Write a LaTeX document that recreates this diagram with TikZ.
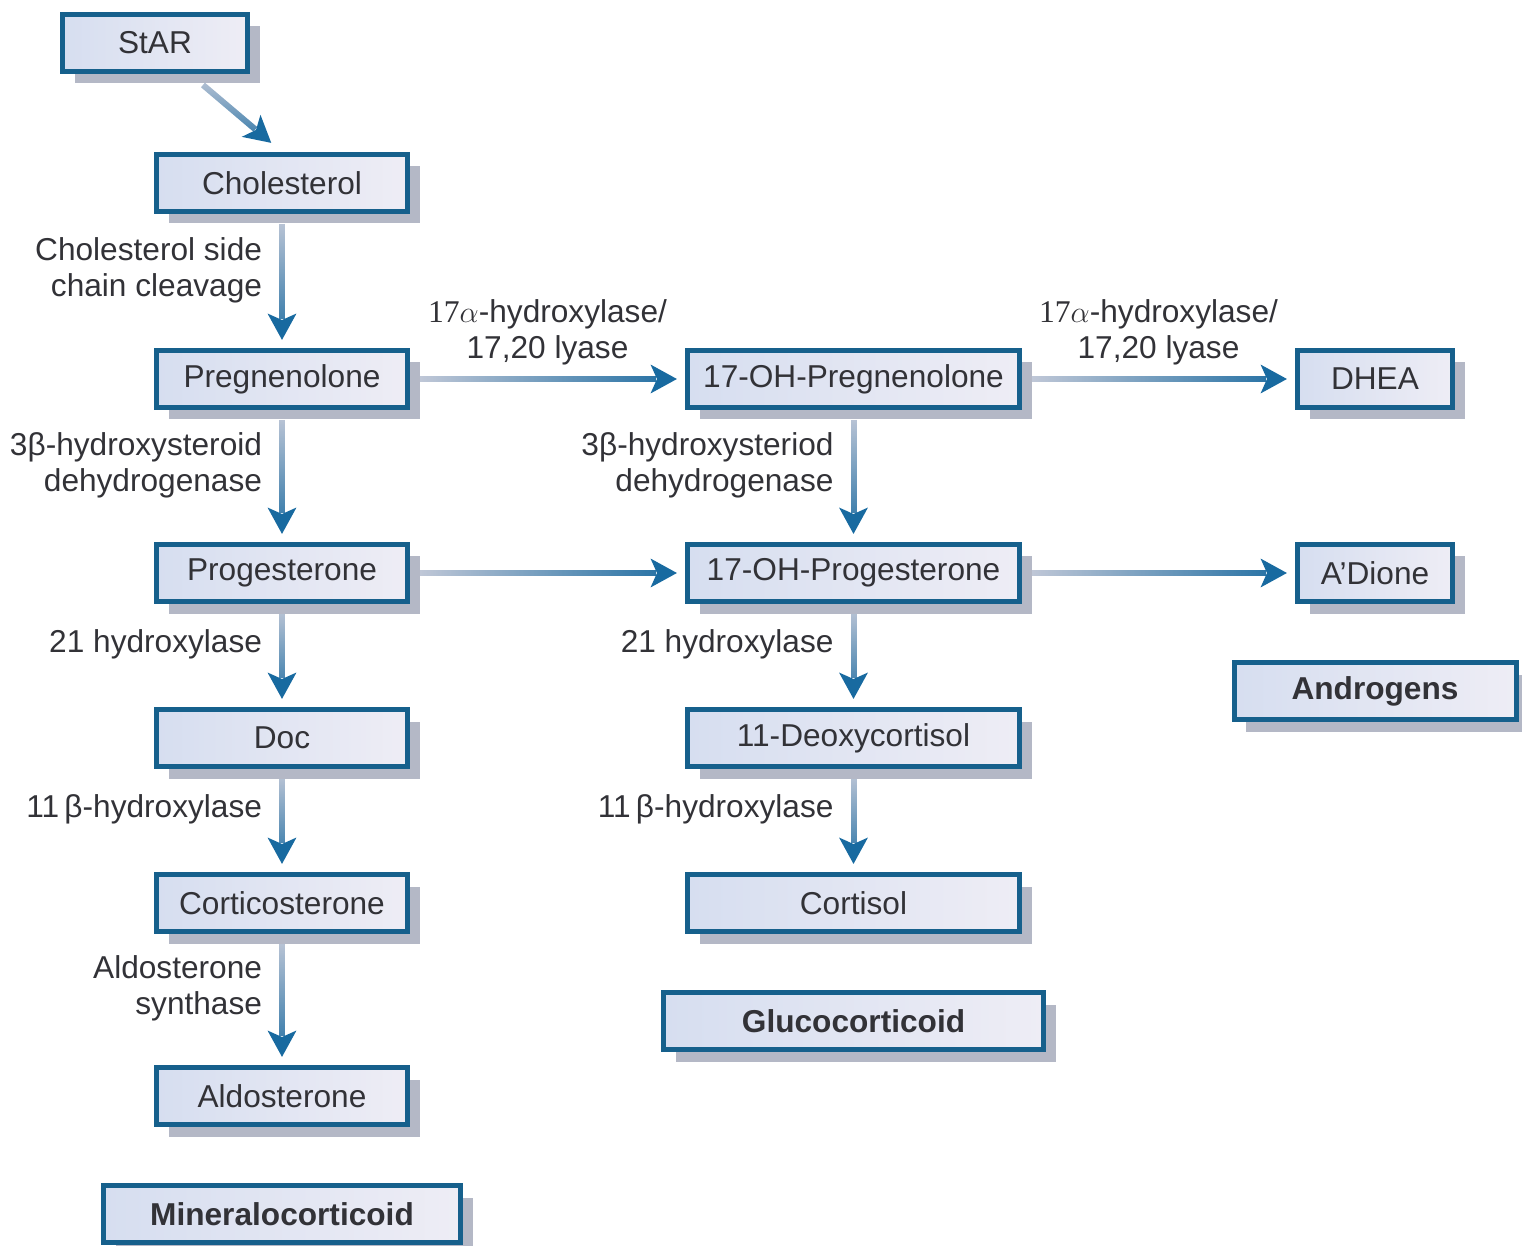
\documentclass[tikz,border=0pt]{standalone}
\usepackage{fontspec}
\setmainfont{Liberation Sans}
\newfontfamily\numserif{Liberation Serif}
\usepackage{tikz}
\usetikzlibrary{positioning, arrows.meta, shadows, fadings, decorations.markings}
\usepackage{xcolor}
\definecolor{boxblue}{RGB}{22,96,140}
\definecolor{arrowblue}{RGB}{24,106,160}
\definecolor{shaftgray}{RGB}{200,204,218}
\definecolor{fillleft}{RGB}{214,222,240}
\definecolor{fillright}{RGB}{238,237,245}
\definecolor{shadowgray}{RGB}{180,184,198}
\definecolor{textgray}{RGB}{50,50,55}

\begin{document}
\begin{tikzpicture}[
  every node/.style={text=textgray, font=\fontsize{18}{20.5}\selectfont},
  hormone/.style={draw=boxblue, line width=0.1cm, left color=fillleft, right color=fillright,
    minimum width=5.02cm, minimum height=1.14cm,
    drop shadow={shadow xshift=0.24cm, shadow yshift=-0.24cm, fill=shadowgray, opacity=1}},
  wide/.style={hormone, minimum width=6.64cm},
  group/.style={hormone, font=\fontsize{18}{20.5}\selectfont\bfseries},
  % gray shaft, then a solid blue head placed by markings
  flow/.style={line width=0.12cm, draw=shaftgray, shorten <=0.2cm, shorten >=#1+0.42cm,
    postaction={decorate, decoration={markings,
      mark=at position -#1 with {\arrow{Stealth[length=0.52cm, width=0.56cm, inset=0.12cm,
        color=arrowblue, fill=arrowblue]}}}}},
  flow/.default=0.16cm,
  flowdown/.style={postaction={draw=arrowblue, path fading=north}, flow=#1},
  flowdown/.default=0.16cm,
  flowright/.style={postaction={draw=arrowblue, path fading=west}, flow=#1},
  flowright/.default=0.16cm,
  lbl/.style={midway, inner sep=0pt, left=0.34cm, yshift=0.22cm, align=right},
  toplbl/.style={midway, inner sep=0pt, above=0.22cm, align=center}
]
\useasboundingbox (0,0) rectangle (30.44,-24.92);

% left column: mineralocorticoid path
\node (StAR) [hormone, minimum width=3.7cm] at (3.10,-0.86) {StAR};
\node (Chol) [hormone] at (5.64,-3.66) {Cholesterol};
\node (Preg) [hormone, below=2.68cm of Chol] {Pregnenolone};
\node (Prog) [hormone, below=2.64cm of Preg] {Progesterone};
\node (Doc) [hormone, below=2.06cm of Prog] {Doc};
\node (Cort) [hormone, below=2.06cm of Doc] {Corticosterone};
\node (Aldo) [hormone, below=2.62cm of Cort] {Aldosterone};
\node (Mineral) [group, minimum width=7.14cm, below=1.12cm of Aldo] {Mineralocorticoid};

% middle column: glucocorticoid path
\node (OHPreg) [wide, right=5.5cm of Preg] {17-OH-Pregnenolone};
\node (OHProg) [wide, right=5.5cm of Prog] {17-OH-Progesterone};
\node (Deoxy) [wide, right=5.5cm of Doc] {11-Deoxycortisol};
\node (Cortisol) [wide, right=5.5cm of Cort] {Cortisol};
\node (Gluco) [group, minimum width=7.6cm, below=1.12cm of Cortisol] {Glucocorticoid};

% right column: androgens
\node (DHEA) [hormone, minimum width=3.1cm, right=5.46cm of OHPreg] {DHEA};
\node (ADione) [hormone, minimum width=3.1cm, right=5.46cm of OHProg] {A'Dione};
\node (Andro) [group, minimum width=5.64cm, below=1.12cm of ADione] {Androgens};

\draw[flowdown=0.28cm, shorten <=0.34cm] ([xshift=0.7cm]StAR.south) -- (Chol.north);
\draw[flowdown] (Chol) -- node[lbl] {Cholesterol side\\chain cleavage} (Preg);
\draw[flowright] (Preg) -- node[toplbl] {{\numserif 17}$\alpha$-hydroxylase/\\17,20 lyase} (OHPreg);
\draw[flowright] (OHPreg) -- node[toplbl] {{\numserif 17}$\alpha$-hydroxylase/\\17,20 lyase} (DHEA);
\draw[flowdown] (Preg) -- node[lbl] {3β-hydroxysteroid\\dehydrogenase} (Prog);
\draw[flowdown] (OHPreg) -- node[lbl] {3β-hydroxysteriod\\dehydrogenase} (OHProg);
\draw[flowright] (Prog) -- (OHProg);
\draw[flowright] (OHProg) -- (ADione);
\draw[flowdown] (Prog) -- node[lbl] {21 hydroxylase} (Doc);
\draw[flowdown] (OHProg) -- node[lbl] {21 hydroxylase} (Deoxy);
\draw[flowdown] (Doc) -- node[lbl] {11\,β-hydroxylase} (Cort);
\draw[flowdown] (Deoxy) -- node[lbl] {11\,β-hydroxylase} (Cortisol);
\draw[flowdown] (Cort) -- node[lbl] {Aldosterone\\synthase} (Aldo);
\end{tikzpicture}
\end{document}
